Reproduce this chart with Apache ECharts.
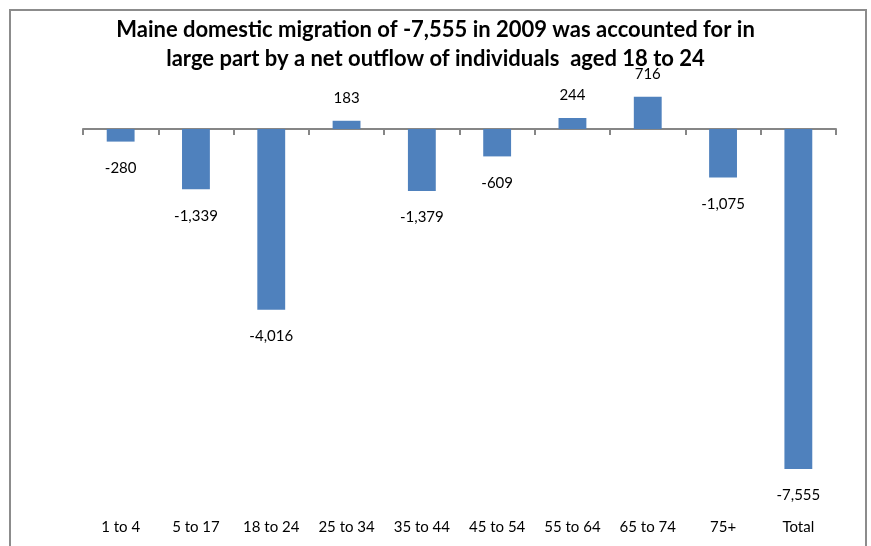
<!DOCTYPE html>
<html><head><meta charset="utf-8">
<script src="https://cdn.jsdelivr.net/npm/echarts@6/dist/echarts.min.js"></script>
<style>html,body{margin:0;padding:0;background:#fff}#c{width:871px;height:546px}</style>
</head><body><div id="c"></div>
<script>
const categories = ['1 to 4','5 to 17','18 to 24','25 to 34','35 to 44','45 to 54','55 to 64','65 to 74','75+','Total'];
const values = [-280,-1339,-4016,183,-1379,-609,244,716,-1075,-7555];
const titleLines = ['Maine domestic migration of -7,555 in 2009 was accounted for in','large part by a net outflow of individuals  aged 18 to 24'];

const chart = echarts.init(document.getElementById('c'));
const fmt = v => (v < 0 ? '-' : '') + Math.abs(v).toLocaleString('en-US');
chart.setOption({
  animation: false,
  title: {
    text: titleLines.join('\n'), left: 'center', top: 10,
    textStyle: {fontFamily: 'Lato', fontWeight: 'bold', fontSize: 22, lineHeight: 29, color: '#000'}
  },
  graphic: [{type: 'rect', shape: {x: 10, y: 10, width: 856, height: 560}, style: {fill: 'none', stroke: '#8c8c8c', lineWidth: 2}}],
  grid: {left: 83, right: 35, top: 84, bottom: 57},
  xAxis: [{
    type: 'category', data: categories, position: 'bottom',
    axisLine: {onZero: true, lineStyle: {color: '#868686', width: 2}},
    axisTick: {show: true, length: 6, lineStyle: {color: '#868686', width: 2}},
    axisLabel: {show: false}
  }, {
    type: 'category', data: categories, position: 'bottom',
    axisLine: {show: false}, axisTick: {show: false},
    axisLabel: {margin: 31, fontFamily: 'Lato', fontSize: 15, color: '#000'}
  }],
  yAxis: {type: 'value', min: -8000, max: 1000, show: false, splitLine: {show: false}},
  series: [{
    type: 'bar', xAxisIndex: 0, barWidth: '37%',
    itemStyle: {color: '#4F81BD'},
    data: values.map(v => ({value: v, label: {position: v < 0 ? 'bottom' : 'top', distance: v < 0 ? 19 : 15}})),
    label: {show: true, fontFamily: 'Lato', fontSize: 15, color: '#000', formatter: p => fmt(p.value)}
  }, {
    type: 'bar', xAxisIndex: 1, data: [], silent: true
  }]
});
</script></body></html>
